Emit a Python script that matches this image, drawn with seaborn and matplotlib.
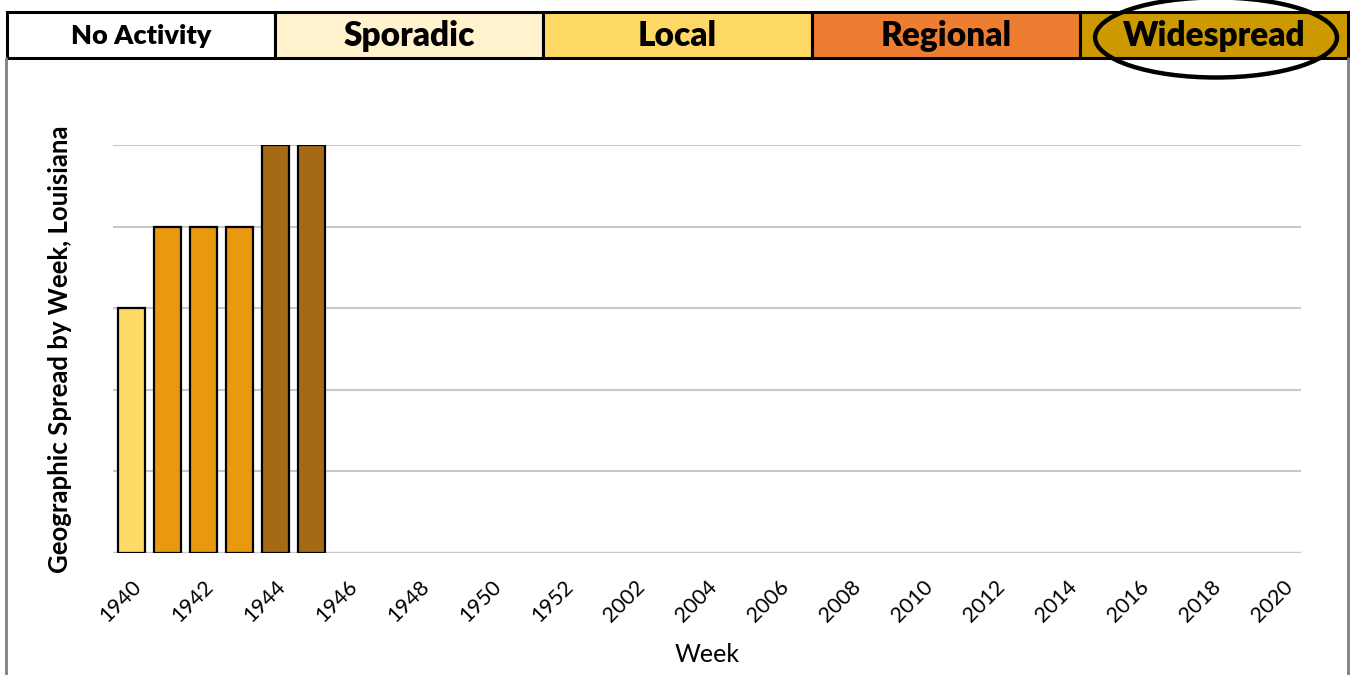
import numpy as np
import pandas as pd
import matplotlib
matplotlib.use("Agg")
import matplotlib.pyplot as plt
from matplotlib.patches import Rectangle, Ellipse
from matplotlib.lines import Line2D
import seaborn as sns

sns.set_style("white")
plt.rcParams['font.family'] = ['Lato', 'DejaVu Sans']
plt.rcParams['text.color'] = 'black'
plt.rcParams['axes.labelcolor'] = 'black'
plt.rcParams['xtick.color'] = 'black'

# data
weeks = [str(w) for w in range(1940, 1953)] + ['2001'] + [str(w) for w in range(2002, 2021)]
spread = [3, 4, 4, 4, 5, 5] + [np.nan] * (len(weeks) - 6)

levels = ['No Activity', 'Sporadic', 'Local', 'Regional', 'Widespread']
level_colors = ['#FFFFFF', '#FFF2CC', '#FFD966', '#ED7D31', '#CC9900']
bar_colors = {3: '#FFD966', 4: '#E8990E', 5: '#A66A17'}

df = pd.DataFrame({'week': weeks, 'spread': spread})
palette = [bar_colors.get(v, '#FFFFFF') for v in spread]

fig = plt.figure(figsize=(13.51, 6.75), dpi=100)
ax = fig.add_axes([113 / 1351, 1 - 553 / 675, 1188 / 1351, 408 / 675])

sns.barplot(data=df, x='week', y='spread', hue='week', palette=palette, saturation=1,
            legend=False, width=0.75, edgecolor='black', linewidth=1.6, ax=ax)

ax.set_ylim(0, 5)
ax.set_xlim(-0.5, len(weeks) - 0.5)
ax.set_yticks(range(0, 6))
ax.set_yticklabels([])
ax.yaxis.grid(True, color='#C8C8C8', linewidth=1.5)
ax.set_axisbelow(True)
for s in ax.spines.values():
    s.set_visible(False)
ax.axhline(0, color='#D9D9D9', linewidth=2.5, zorder=0.5)

ax.set_xticks(range(0, len(weeks), 2))
ax.set_xticklabels(weeks[::2], rotation=45, ha='right', rotation_mode='anchor', fontsize=15.5)
ax.tick_params(axis='both', which='both', length=0)
ax.tick_params(axis='x', pad=17)
ax.set_xlabel('Week', fontsize=18, labelpad=12)
ax.set_ylabel('Geographic Spread by Week, Louisiana', fontsize=18.5, fontweight='bold', labelpad=26)

# header with activity levels
hx = fig.add_axes([7 / 1351, 1 - 58 / 675, 1341 / 1351, 46 / 675])
hx.set_xlim(0, 5)
hx.set_ylim(0, 1)
hx.axis('off')
for i, (name, col) in enumerate(zip(levels, level_colors)):
    hx.add_patch(Rectangle((i, 0), 1, 1, facecolor=col, edgecolor='black', linewidth=2.2, clip_on=False))
    hx.text(i + 0.5, 0.47, name, ha='center', va='center', fontweight='heavy',
            fontsize=19.5 if i == 0 else 24)
hx.add_patch(Ellipse((4.508, 0.446), 0.902, 1.74, facecolor='none', edgecolor='black',
                     linewidth=3.2, clip_on=False))

# chart border
fig.add_artist(Line2D([6 / 1351, 6 / 1351], [0, 1 - 58 / 675], color='#7F7F7F', linewidth=2))
fig.add_artist(Line2D([1348 / 1351, 1348 / 1351], [0, 1 - 58 / 675], color='#7F7F7F', linewidth=2))

fig.savefig('out.png', dpi=100)
